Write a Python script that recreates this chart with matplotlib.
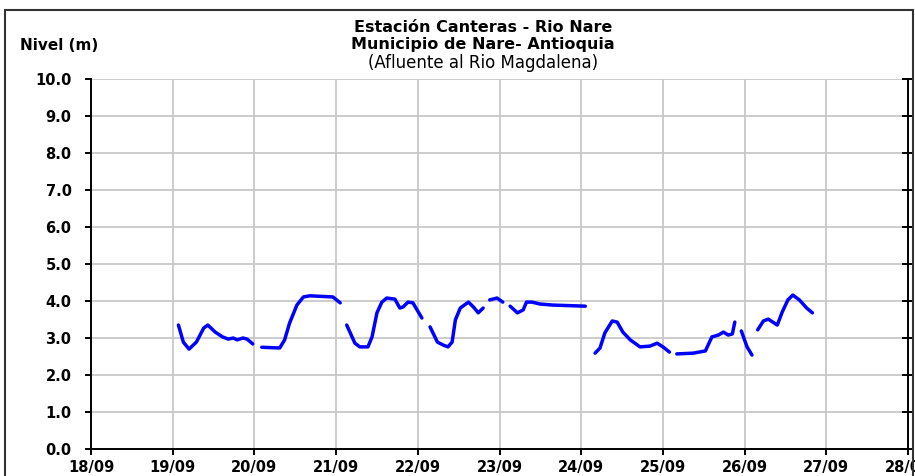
import numpy as np
import matplotlib.pyplot as plt
from matplotlib.patches import Rectangle

plt.rcParams['font.family'] = ['DejaVu Sans']

# day of September (fractional) and water level (m), one pair per drawn segment
days_1 = [19.07, 19.13, 19.20, 19.29, 19.38, 19.43, 19.52, 19.61, 19.68, 19.74, 19.79, 19.86, 19.91, 19.98]
level_1 = [3.35, 2.89, 2.70, 2.89, 3.27, 3.35, 3.16, 3.03, 2.97, 3.00, 2.95, 3.00, 2.97, 2.84]

days_2 = [20.09, 20.31, 20.37, 20.43, 20.52, 20.60, 20.68, 20.96, 21.05]
level_2 = [2.75, 2.73, 2.95, 3.40, 3.89, 4.11, 4.14, 4.11, 3.95]

days_3 = [21.13, 21.23, 21.29, 21.39, 21.44, 21.50, 21.56, 21.62, 21.72, 21.78, 21.82, 21.88, 21.94, 22.05]
level_3 = [3.35, 2.86, 2.76, 2.76, 3.03, 3.68, 3.97, 4.08, 4.05, 3.81, 3.84, 3.97, 3.95, 3.54]

days_4 = [22.15, 22.24, 22.31, 22.37, 22.42, 22.46, 22.52, 22.62, 22.68, 22.74, 22.80]
level_4 = [3.30, 2.89, 2.81, 2.76, 2.89, 3.49, 3.81, 3.97, 3.84, 3.68, 3.81]

days_5 = [22.88, 22.97, 23.04]
level_5 = [4.03, 4.08, 3.97]

days_6 = [23.13, 23.22, 23.29, 23.33, 23.40, 23.49, 23.65, 24.05]
level_6 = [3.86, 3.68, 3.76, 3.97, 3.97, 3.92, 3.89, 3.86]

days_7 = [24.17, 24.23, 24.29, 24.38, 24.44, 24.51, 24.60, 24.72, 24.84, 24.93, 25.00, 25.08]
level_7 = [2.59, 2.73, 3.14, 3.46, 3.43, 3.16, 2.95, 2.76, 2.78, 2.86, 2.76, 2.62]

days_8 = [25.17, 25.37, 25.52, 25.60, 25.68, 25.74, 25.80, 25.85, 25.88]
level_8 = [2.57, 2.59, 2.65, 3.03, 3.08, 3.16, 3.08, 3.11, 3.43]

days_9 = [25.96, 26.03, 26.09]
level_9 = [3.19, 2.76, 2.54]

days_10 = [26.16, 26.23, 26.29, 26.40, 26.46, 26.53, 26.59, 26.67, 26.76, 26.83]
level_10 = [3.22, 3.46, 3.51, 3.35, 3.70, 4.03, 4.16, 4.03, 3.81, 3.68]

segments = [(days_1, level_1), (days_2, level_2), (days_3, level_3), (days_4, level_4),
            (days_5, level_5), (days_6, level_6), (days_7, level_7), (days_8, level_8),
            (days_9, level_9), (days_10, level_10)]

x_ticks = np.arange(18, 29)
x_labels = ['%02d/09' % d for d in x_ticks]
y_ticks = np.arange(0, 11)

fig = plt.figure(figsize=(9.15, 4.76), dpi=100)
ax = fig.add_axes([91/915, 1-449/476, (908-91)/915, (449-79)/476])

for d, h in segments:
    ax.plot(d, h, '-', color='#0000ff', lw=2.5, solid_capstyle='round')

ax.set_xlim(18, 28)
ax.set_ylim(0, 10)
ax.set_xticks(x_ticks)
ax.set_xticklabels(x_labels, fontweight='bold', fontsize=10.5)
ax.set_yticks(y_ticks)
ax.set_yticklabels(['%.1f' % v for v in y_ticks], fontweight='bold', fontsize=10.5)
ax.grid(True, color='#c8c8c8', lw=1.3)
ax.set_axisbelow(True)
ax.spines['top'].set_visible(False)
for s in ['left', 'bottom', 'right']:
    ax.spines[s].set_linewidth(1.4)
ax.tick_params(axis='x', length=4, width=1.4, pad=4)
ax.tick_params(axis='y', length=4, width=1.4, pad=10)
ax.tick_params(axis='y', which='major', right=True)
for t in ax.yaxis.get_major_ticks():
    t.tick2line.set_markersize(8)
    t.tick2line.set_marker('_')

fig.text(20/915, 1-46/476, 'Nivel (m)', fontweight='bold', fontsize=11, va='center')
fig.text(483/915, 1-27/476, 'Estación Canteras - Rio Nare', fontweight='bold', fontsize=11.5,
         ha='center', va='center')
fig.text(483/915, 1-45/476, 'Municipio de Nare- Antioquia', fontweight='bold', fontsize=11.5,
         ha='center', va='center')
fig.text(483/915, 1-63/476, '(Afluente al Rio Magdalena)', fontsize=12, ha='center', va='center')

fig.patches.append(Rectangle((5/915, -0.1), (913-5)/915, 1.1 - 10/476, transform=fig.transFigure,
                             fill=False, edgecolor='#333333', lw=1.5))

fig.savefig('out.png', dpi=100)
